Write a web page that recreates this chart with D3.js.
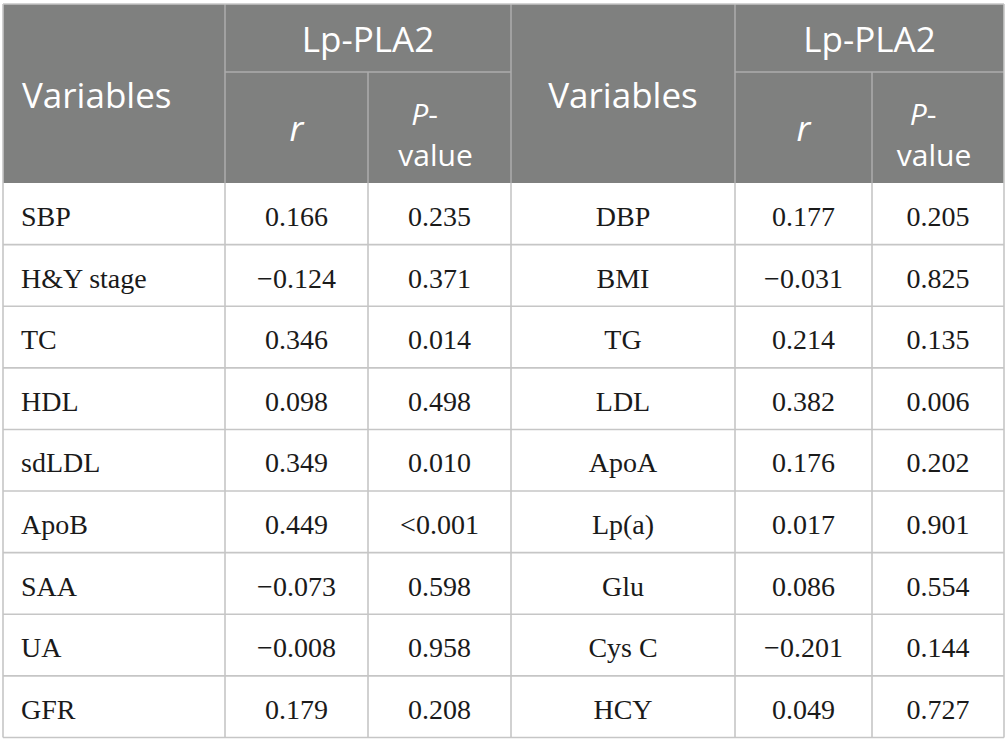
<!DOCTYPE html>
<html>
<head>
<meta charset="utf-8">
<script src="https://cdn.jsdelivr.net/npm/d3@7"></script>
<style>
  html, body { margin: 0; padding: 0; background: #fff; }
</style>
</head>
<body>
<div id="chart"></div>
<script>
// table contents
const groupLabel = 'Lp-PLA2';
const leftVars = ['SBP', 'H&Y stage', 'TC', 'HDL', 'sdLDL', 'ApoB', 'SAA', 'UA', 'GFR'];
const leftR = ['0.166', '\u22120.124', '0.346', '0.098', '0.349', '0.449', '\u22120.073', '\u22120.008', '0.179'];
const leftP = ['0.235', '0.371', '0.014', '0.498', '0.010', '<0.001', '0.598', '0.958', '0.208'];
const rightVars = ['DBP', 'BMI', 'TG', 'LDL', 'ApoA', 'Lp(a)', 'Glu', 'Cys C', 'HCY'];
const rightR = ['0.177', '\u22120.031', '0.214', '0.382', '0.176', '0.017', '0.086', '\u22120.201', '0.049'];
const rightP = ['0.205', '0.825', '0.135', '0.006', '0.202', '0.901', '0.554', '0.144', '0.727'];

const W = 1005, H = 756;
// column edges
const colX = [3, 225, 368, 511, 735, 872, 1004];
const headTop = 4, headMid = 72, headBot = 183, tableBot = 737.5;

const headFill = '#7f807f';
const headLine = '#acacac';
const gridCol = '#c6c6c6';
const sansFont = "'Open Sans', 'Noto Sans', sans-serif";
const serifFont = "'Liberation Serif', 'DejaVu Serif', serif";

const svg = d3.select('#chart').append('svg')
    .attr('width', W).attr('height', H);

const rows = d3.range(leftVars.length);
const y = d3.scaleBand().domain(rows).range([headBot, tableBot]);

// header background
svg.append('rect')
    .attr('x', colX[0]).attr('y', headTop)
    .attr('width', colX[6] - colX[0]).attr('height', headBot - headTop)
    .attr('fill', headFill);

// header inner lines
const hl = svg.append('g').attr('stroke', headLine).attr('stroke-width', 1.5);
[[colX[1], colX[3]], [colX[4], colX[6]]].forEach(([a, b]) => {
    hl.append('line').attr('x1', a).attr('x2', b).attr('y1', headMid).attr('y2', headMid);
});
[colX[1], colX[3], colX[4]].forEach(x => {
    hl.append('line').attr('x1', x).attr('x2', x).attr('y1', headTop).attr('y2', headBot);
});
[colX[2], colX[5]].forEach(x => {
    hl.append('line').attr('x1', x).attr('x2', x).attr('y1', headMid).attr('y2', headBot);
});

// header text
const ht = svg.append('g')
    .attr('fill', '#fff')
    .attr('font-family', sansFont)
    .attr('font-size', 35);

[0, 3].forEach((c, i) => {
    const vx = i === 0 ? colX[0] + 19 : (colX[3] + colX[4]) / 2;
    ht.append('text')
        .attr('x', vx).attr('y', 108)
        .attr('text-anchor', i === 0 ? 'start' : 'middle')
        .text('Variables');
    ht.append('text')
        .attr('x', (colX[c + 1] + colX[c + 3]) / 2).attr('y', 52)
        .attr('text-anchor', 'middle')
        .text(groupLabel);
    ht.append('text')
        .attr('x', (colX[c + 1] + colX[c + 2]) / 2).attr('y', 141)
        .attr('text-anchor', 'middle')
        .attr('font-style', 'italic')
        .text('r');
    // P-value wrapped on two lines
    const pc = (colX[c + 2] + colX[c + 3]) / 2;
    const p1 = ht.append('text')
        .attr('x', pc - 15).attr('y', 125)
        .attr('text-anchor', 'middle')
        .attr('font-size', 30);
    p1.append('tspan').attr('font-style', 'italic').text('P');
    p1.append('tspan').text('-');
    ht.append('text')
        .attr('x', pc - 4).attr('y', 166)
        .attr('text-anchor', 'middle')
        .attr('font-size', 30)
        .text('value');
});

// body grid
const grid = svg.append('g').attr('stroke', gridCol).attr('stroke-width', 1.6).attr('fill', 'none');
rows.forEach(i => {
    grid.append('line')
        .attr('x1', colX[0]).attr('x2', colX[6])
        .attr('y1', y(i) + y.bandwidth()).attr('y2', y(i) + y.bandwidth());
});
colX.forEach(x => {
    grid.append('line').attr('x1', x).attr('x2', x).attr('y1', headBot).attr('y2', tableBot);
});
// outer border of header
grid.append('line').attr('x1', colX[0]).attr('x2', colX[6]).attr('y1', headTop).attr('y2', headTop);
grid.append('line').attr('x1', colX[0]).attr('x2', colX[0]).attr('y1', headTop).attr('y2', headBot);
grid.append('line').attr('x1', colX[6]).attr('x2', colX[6]).attr('y1', headTop).attr('y2', headBot);

// body text
const body = svg.append('g')
    .attr('fill', '#1a1a1a')
    .attr('font-family', serifFont)
    .attr('font-size', 28);

const columns = [
    { data: leftVars, x: colX[0] + 18, anchor: 'start' },
    { data: leftR, x: (colX[1] + colX[2]) / 2, anchor: 'middle' },
    { data: leftP, x: (colX[2] + colX[3]) / 2, anchor: 'middle' },
    { data: rightVars, x: (colX[3] + colX[4]) / 2, anchor: 'middle' },
    { data: rightR, x: (colX[4] + colX[5]) / 2, anchor: 'middle' },
    { data: rightP, x: (colX[5] + colX[6]) / 2, anchor: 'middle' }
];

columns.forEach(col => {
    body.append('g').selectAll('text')
        .data(col.data)
        .join('text')
        .attr('x', col.x)
        .attr('y', (d, i) => y(i) + 43)
        .attr('text-anchor', col.anchor)
        .text(d => d);
});
</script>
</body>
</html>
